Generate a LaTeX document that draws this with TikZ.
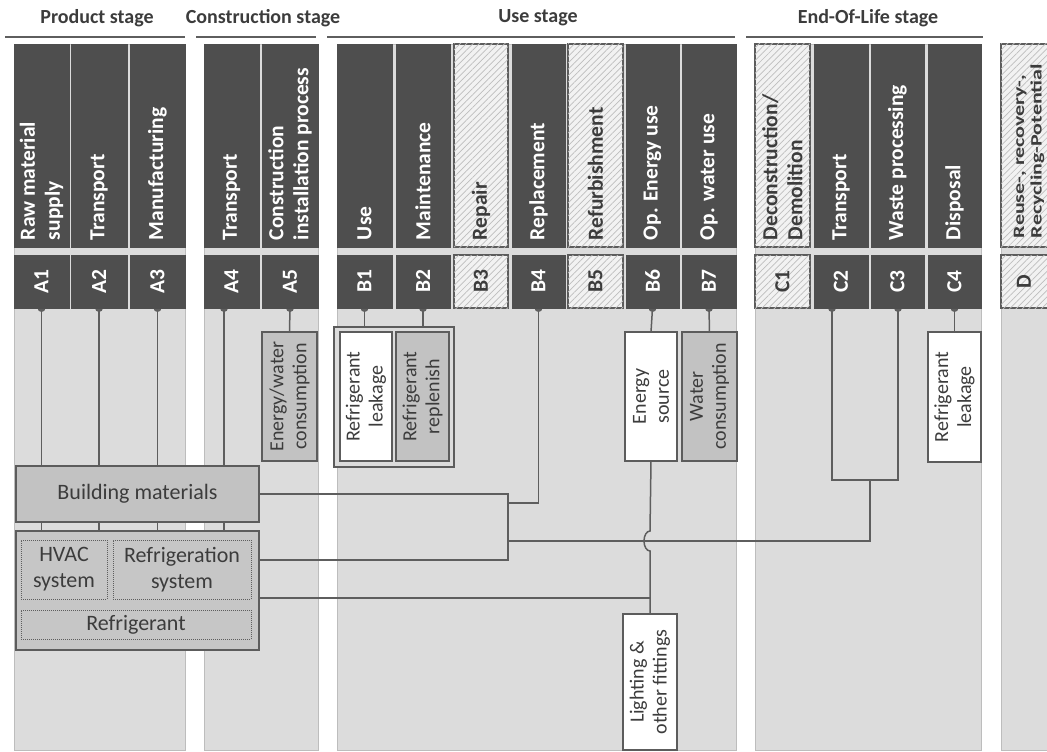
\documentclass[tikz,border=0pt]{standalone}
\usepackage{fontspec}
\usepackage{graphicx}
\setmainfont{Carlito}
\usetikzlibrary{patterns.meta}
\definecolor{dk}{HTML}{4E4E4E}
\definecolor{bgc}{HTML}{DCDCDC}
\definecolor{bgb}{HTML}{BDBDBD}
\definecolor{mid}{HTML}{C2C2C2}
\definecolor{grp}{HTML}{C6C6C6}
\definecolor{bord}{HTML}{5C5C5C}
\definecolor{ln}{HTML}{5E5E5E}
\definecolor{txt}{HTML}{3C3C3C}
\definecolor{hf}{HTML}{F2F2F2}
\definecolor{hl}{HTML}{BEBEBE}
\pgfdeclarelayer{back}
\pgfdeclarelayer{wires}
\pgfsetlayers{back,wires,main}
\newcommand\bx[6]{\node[#6,minimum width={((#4)-(#2))*1pt},minimum height={((#5)-(#3))*1pt}] (#1) at ({((#2)+(#4))/2},{((#3)+(#5))/2}) {};}
\newcommand\col[7]{%
 \bx{h#1}{#2}{44}{#3}{247}{#6}
 \bx{c#1}{#2}{255}{#3}{308}{#6}
 \node[#7,rotate=90,anchor=west,align=left] (t#1) at ({((#2)+(#3))/2},240) {#4};
 \node[#7,rotate=90] (k#1) at (c#1) {#5};}
\tikzset{
 every node/.style={inner sep=0pt,outer sep=0pt},
 bgcol/.style={draw=bgb,fill=bgc,line width=0.8pt},
 dkbox/.style={draw=dk,fill=dk,line width=0.5pt},
 hatchbox/.style={draw=bord,fill=hf,line width=1.1pt,
   postaction={pattern={Lines[angle=45,distance=4.5pt,line width=0.7pt]},pattern color=hl}},
 wt/.style={text=white,font=\fontsize{21.5}{25}\selectfont\bfseries},
 ht/.style={text=txt,font=\fontsize{21.5}{25}\selectfont\bfseries},
 dt/.style={text=txt,font=\fontsize{22}{17.5}\selectfont\bfseries},
 stage/.style={text=txt,font=\fontsize{20}{24}\selectfont\bfseries},
 stageline/.style={draw=ln,line width=2.2pt},
 wire/.style={draw=ln,line width=1.5pt},
 whitebox/.style={draw=bord,fill=white,line width=1.3pt},
 midbox/.style={draw=bord,fill=mid,line width=1.3pt},
 grpbox/.style={draw=bord,fill=grp,line width=1.5pt},
 outbox/.style={draw=bord,fill=bgc,line width=1.3pt},
 dotbox/.style={draw=ln,densely dotted,line width=1pt},
 vt/.style={text=txt,rotate=90,align=center,font=\fontsize{20}{23}\selectfont},
 bt/.style={text=txt,align=center,font=\fontsize{22}{26}\selectfont},
}
\begin{document}
\begin{tikzpicture}[x=1pt,y=-1pt]
\clip (0,0) rectangle (1047,752);
\begin{pgfonlayer}{back}
\bx{gA}{14}{44}{185}{750}{bgcol}
\bx{gAA}{204}{44}{318}{750}{bgcol}
\bx{gB}{337}{44}{736}{750}{bgcol}
\bx{gC}{755}{44}{981}{750}{bgcol}
\bx{gD}{1001}{44}{1060}{750}{bgcol}
\end{pgfonlayer}
% stage headers
\node[stage] (sP) at (97,18) {Product stage};
\node[stage] (sC) at (263,18) {Construction stage};
\node[stage] (sU) at (538,18) {Use stage};
\node[stage] (sE) at (868,18) {End-Of-Life stage};
\coordinate (lP1) at (5,37); \coordinate (lP2) at (185,37);
\coordinate (lC1) at (196,37); \coordinate (lC2) at (316,37);
\coordinate (lU1) at (327,37); \coordinate (lU2) at (735,37);
\coordinate (lE1) at (746,37); \coordinate (lE2) at (983,37);
\draw[stageline] (lP1) -- (lP2);
\draw[stageline] (lC1) -- (lC2);
\draw[stageline] (lU1) -- (lU2);
\draw[stageline] (lE1) -- (lE2);
% columns
\col{A1}{14}{69}{Raw material\\supply}{A1}{dkbox}{wt}
\col{A2}{71}{127}{Transport}{A2}{dkbox}{wt}
\col{A3}{130}{185}{Manufacturing}{A3}{dkbox}{wt}
\col{A4}{204}{259}{Transport}{A4}{dkbox}{wt}
\col{A5}{262}{318}{Construction\\installation process}{A5}{dkbox}{wt}
\col{B1}{337}{392}{Use}{B1}{dkbox}{wt}
\col{B2}{396}{450}{Maintenance}{B2}{dkbox}{wt}
\col{B3}{454}{508}{Repair}{B3}{hatchbox}{ht}
\col{B4}{512}{565}{Replacement}{B4}{dkbox}{wt}
\col{B5}{568}{623}{Refurbishment}{B5}{hatchbox}{ht}
\col{B6}{626}{679}{Op. Energy use}{B6}{dkbox}{wt}
\col{B7}{682}{736}{Op. water use}{B7}{dkbox}{wt}
\col{C1}{755}{810}{Deconstruction/\\Demolition}{C1}{hatchbox}{ht}
\col{C2}{814}{868}{Transport}{C2}{dkbox}{wt}
\col{C3}{871}{924}{Waste processing}{C3}{dkbox}{wt}
\col{C4}{928}{981}{Disposal}{C4}{dkbox}{wt}
\bx{hD}{1001}{44}{1060}{247}{hatchbox}
\bx{cD}{1001}{255}{1060}{308}{hatchbox}
\node[dt,rotate=90,anchor=west,align=left] (tD) at (1029,238) {\scalebox{1}[0.72]{Reuse-, recovery-,}\\\scalebox{1}[0.72]{Recycling-Potential}};
\node[ht,rotate=90] (kD) at (1024,281.5) {D};
% content boxes
\bx{ew}{262}{332}{317}{461}{midbox}
\node[vt] (tew) at (ew) {Energy/water\\consumption};
\bx{rg}{334}{327}{454}{467}{outbox}
\bx{rl}{340}{332}{392}{461}{whitebox}
\node[vt] (trl) at (rl) {Refrigerant\\leakage};
\bx{rr}{396}{332}{449}{461}{midbox}
\node[vt] (trr) at (rr) {Refrigerant\\replenish};
\bx{es}{625}{332}{677}{461}{whitebox}
\node[vt] (tes) at (es) {Energy\\source};
\bx{wc}{682}{332}{737}{461}{midbox}
\node[vt] (twc) at (wc) {Water\\consumption};
\bx{lf}{623}{614}{677}{750}{whitebox}
\node[vt] (tlf) at (lf) {Lighting \&\\other fittings};
\bx{rlc}{928}{332}{981}{462}{whitebox}
\node[vt] (trlc) at (rlc) {Refrigerant\\leakage};
\bx{bm}{16}{466}{259}{522}{midbox}
\node[bt] (tbm) at (bm) {Building materials};
\bx{rs}{16}{531}{259}{650}{grpbox}
\bx{hv}{21}{540}{107}{599}{dotbox}
\node[bt] (thv) at (hv) {HVAC\\system};
\bx{rf}{113}{540}{251}{599}{dotbox}
\node[bt] (trf) at (rf) {Refrigeration\\system};
\bx{rt}{21}{610}{251}{639}{dotbox}
\node[bt] (trt) at (rt) {Refrigerant};
% connectors
\coordinate (jt) at (508,494);
\coordinate (jb) at (508,560);
\coordinate (jm) at (508,541);
\coordinate (j4) at (508,503);
\coordinate (e2) at (832,480);
\coordinate (e3) at (898,480);
\coordinate (em) at (870,480);
\coordinate (hopA) at (650,531);
\coordinate (k6) at (650,598);
\coordinate (dA4) at (224,308);
\coordinate (dC2) at (832,308);
\coordinate (dC3) at (898,308);
\begin{pgfonlayer}{wires}
\foreach \n in {A1,A2,A3}{\draw[wire] (c\n.south) -- (c\n.south |- rs.north);
  \fill[ln] (c\n.south) circle (4);}
\draw[wire] (dA4) -- (dA4 |- rs.north); \fill[ln] (dA4) circle (4);
\draw[wire] (cA5.south) -- (ew.north); \fill[ln] (cA5.south) circle (4);
\draw[wire] (cB1.south) -- (cB1.south |- rg.north); \fill[ln] (cB1.south) circle (4);
\draw[wire] (cB2.south) -- (cB2.south |- rg.north); \fill[ln] (cB2.south) circle (4);
\draw[wire] (cB4.south) |- (j4); \fill[ln] (cB4.south) circle (4);
\draw[wire] (cB6.south) -- (es.north); \fill[ln] (cB6.south) circle (4);
\draw[wire] (cB7.south) -- (wc.north); \fill[ln] (cB7.south) circle (4);
\draw[wire] (cC4.south) -- (rlc.north); \fill[ln] (cC4.south) circle (4);
\draw[wire] (dC2) -- (e2) -- (e3) -- (dC3);
\fill[ln] (dC2) circle (4); \fill[ln] (dC3) circle (4);
\draw[wire] (bm.east) -- (jt) -- (jb) -- (rs.east |- jb);
\draw[wire] (em) -- (em |- jm) -- (jm);
\draw[wire] (rs.east |- k6) -- (k6);
\draw[wire] (es.south) -- (hopA) arc[start angle=270,end angle=90,x radius=6,y radius=10] -- (lf.north);
\end{pgfonlayer}
\end{tikzpicture}
\end{document}
